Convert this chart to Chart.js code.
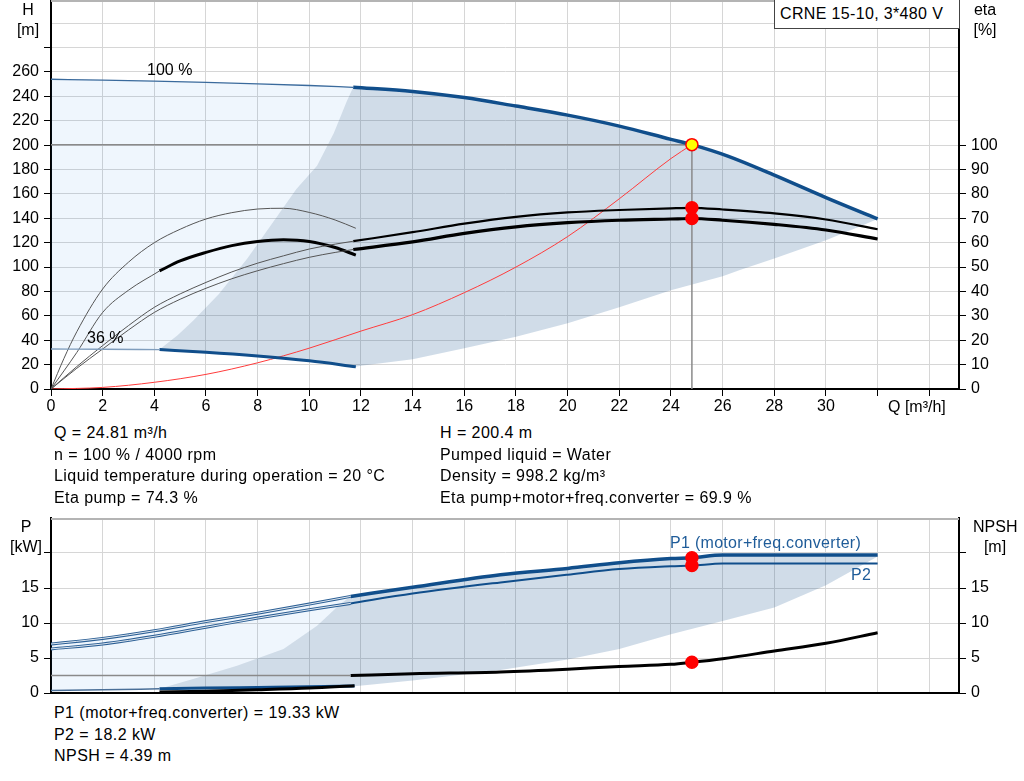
<!DOCTYPE html>
<html>
<head>
<meta charset="utf-8">
<script src="https://cdn.jsdelivr.net/npm/chart.js@4.4.1/dist/chart.umd.min.js"></script>
<style>
  body { margin: 0; background: #fff; }
  #page { position: relative; width: 1024px; height: 781px; overflow: hidden;
          font-family: "Liberation Sans", Arial, sans-serif; color: #000; }
  canvas { position: absolute; left: 0; }
  #top { top: 0; }
  #bottom { top: 505px; }
  .t { position: absolute; font-size: 16px; line-height: 18px; white-space: nowrap; letter-spacing: 0.45px; }
  .c { text-align: center; width: 44px; letter-spacing: 0; }
  .blue { color: #1f5c99; letter-spacing: 0.3px; }
  #box { position: absolute; left: 774px; top: -1px; width: 186px; height: 30px;
         border: 1px solid #444; background: #fff; box-sizing: border-box; }
</style>
</head>
<body>
<div id="page">
  <canvas id="top" width="1024" height="420"></canvas>
  <canvas id="bottom" width="1024" height="192"></canvas>

  <div id="box"></div>
  <div class="t" style="left:780px;top:5px;letter-spacing:0.35px">CRNE 15-10, 3*480 V</div>

  <div class="t c" style="left:6px;top:1px">H</div>
  <div class="t c" style="left:6px;top:21px">[m]</div>
  <div class="t c" style="left:963px;top:1px">eta</div>
  <div class="t c" style="left:963px;top:21px">[%]</div>
  <div class="t" style="left:888px;top:398px;letter-spacing:0">Q [m³/h]</div>
  <div class="t" style="left:147px;top:61px;letter-spacing:0">100 %</div>
  <div class="t" style="left:87px;top:329px;letter-spacing:0">36 %</div>

  <div class="t" style="left:54px;top:424px">Q = 24.81 m³/h</div>
  <div class="t" style="left:54px;top:446px">n = 100 % / 4000 rpm</div>
  <div class="t" style="left:54px;top:467px">Liquid temperature during operation = 20 °C</div>
  <div class="t" style="left:54px;top:489px">Eta pump = 74.3 %</div>
  <div class="t" style="left:440px;top:424px">H = 200.4 m</div>
  <div class="t" style="left:440px;top:446px">Pumped liquid = Water</div>
  <div class="t" style="left:440px;top:467px">Density = 998.2 kg/m³</div>
  <div class="t" style="left:440px;top:489px">Eta pump+motor+freq.converter = 69.9 %</div>

  <div class="t c" style="left:4px;top:518px">P</div>
  <div class="t c" style="left:4px;top:538px">[kW]</div>
  <div class="t c" style="left:973px;top:518px">NPSH</div>
  <div class="t c" style="left:973px;top:538px">[m]</div>
  <div class="t blue" style="left:670px;top:534px">P1 (motor+freq.converter)</div>
  <div class="t blue" style="left:851px;top:566px">P2</div>

  <div class="t" style="left:54px;top:704px">P1 (motor+freq.converter) = 19.33 kW</div>
  <div class="t" style="left:54px;top:726px">P2 = 18.2 kW</div>
  <div class="t" style="left:54px;top:747px">NPSH = 4.39 m</div>
</div>

<script>
// ---- operating point ----
var qOp = 24.81, hOp = 200.4, etaPumpOp = 74.3, etaTotOp = 69.9;
var p1Op = 19.33, p2Op = 18.2, npshOp = 4.39;

// ---- head curves (m) ----
var qHead100Thin = [0, 2, 4, 6, 8, 10, 11.7];
var hHead100Thin = [254, 253.3, 252.5, 251.5, 250.3, 248.9, 247.4];
var qHead100 = [11.7, 14, 16, 18, 20, 22, 24, 24.81, 26.2, 28, 30, 32];
var hHead100 = [247.4, 244, 239, 232, 224.6, 215.6, 204.7, 200.4, 191, 175.4, 157, 139.5];
var qHead36Thin = [0, 2, 4.2];
var hHead36Thin = [32.8, 32.6, 32.3];
var qHead36 = [4.2, 6, 8, 10, 11.8];
var hHead36 = [32.3, 30.2, 27.1, 23.1, 18.3];

// edges of the operating range (m)
var qEdge = [11.7, 11.45, 10.95, 10.3, 9.5, 8.6, 7.6, 6.5, 5.5, 4.9, 4.2];
var hEdge = [247.4, 236, 210, 183, 164, 137, 107, 78, 56, 44, 32.3];
var qLow = [32, 31.4, 30, 28, 26.67, 26, 24, 22, 20, 18, 16, 14, 12, 11.8];
var hLow = [139.5, 134, 122, 107, 97.5, 92.5, 81, 67, 54, 42.9, 33.4, 24.3, 19.1, 18.3];

// system curve (m)
var qSys = [0, 2, 4, 6, 8, 10, 12, 14, 16, 18, 20, 22, 24, 24.81];
var hSys = [0, 1.3, 5.5, 12, 21.5, 33.5, 47.5, 61, 79, 100, 125, 156, 189, 200.4];

// ---- efficiency curves (%) ----
var qEtaThin = [0, 1, 2, 3, 4, 5, 6, 7, 8, 9, 10, 11, 11.7];
var etaPumpThin = [0, 9.2, 17.8, 26, 33.5, 39, 43.7, 48, 51.6, 54.6, 57.4, 59.4, 60.6];
var etaTotThin = [0, 8.5, 16.4, 24.2, 31.4, 36.8, 41.3, 45.2, 48.5, 51.4, 54, 56, 57.2];
var qEta = [11.7, 14, 16, 18, 20, 22, 24, 24.81, 26, 28, 30, 32];
var etaPump = [60.6, 64.3, 67.8, 70.6, 72.4, 73.4, 74.1, 74.3, 73.6, 72, 69.5, 65.5];
var etaTot = [57.2, 60.3, 63.8, 66.5, 68.2, 69.2, 69.7, 69.9, 69.2, 67.5, 65.2, 61.5];
var qEtaPump36 = [0, 0.5, 1, 2, 3, 4, 5, 6, 7, 8, 9, 10, 11, 11.8];
var etaPump36 = [0, 12.5, 23.5, 41, 52, 60, 65.5, 69.7, 72.3, 73.8, 74.1, 72.4, 69.3, 65.9];
var qEtaTot36Thin = [0, 1, 2, 3, 4.2];
var etaTot36Thin = [0, 15, 31.4, 40.5, 48.4];
var qEtaTot36 = [4.2, 5, 6, 7, 8, 9, 10, 11, 11.8];
var etaTot36 = [48.4, 52.5, 56, 58.8, 60.5, 61.2, 60.5, 58, 54.9];

// ---- power and NPSH ----
var qPThin = [0, 2, 4, 6, 8, 10, 11.6];
var p1Thin = [7.0, 7.8, 8.9, 10.2, 11.4, 12.7, 13.8];
var p2Thin = [6.3, 7.0, 8.1, 9.4, 10.7, 11.9, 12.8];
var qP = [11.6, 14, 17.4, 20, 22, 24, 24.81, 26, 28, 30, 32];
var p1 = [13.8, 15.1, 16.9, 17.8, 18.6, 19.2, 19.33, 19.7, 19.7, 19.7, 19.7];
var p2 = [12.8, 14.2, 15.8, 16.9, 17.7, 18.1, 18.2, 18.5, 18.5, 18.5, 18.5];
var npshThin = [2.5, 2.5];
var qNpshThin = [0, 11.6];
var npsh = [2.5, 2.75, 3.0, 3.4, 3.8, 4.1, 4.39, 4.9, 6.0, 7.1, 8.6];
var qP36Thin = [0, 2, 4.2];
var p136Thin = [0.35, 0.45, 0.6];
var qP36 = [4.2, 6, 8, 10, 11.75];
var p136 = [0.6, 0.7, 0.8, 0.9, 1.0];
var npsh36 = [0.15, 0.25, 0.45, 0.7, 1.05];
var qEdgeP = [11.6, 11.2, 10.3, 9.0, 7.2, 5.5, 4.2];
var pEdge = [13.8, 12.7, 9.6, 6.3, 3.9, 2.0, 0.6];
var qLowP = [32, 30, 28, 26, 24, 22, 20, 17.4, 14, 11.75];
var pLow = [19.5, 15.4, 12.2, 10.3, 8.4, 6.3, 4.8, 3.3, 1.8, 0.95];

// ---- ticks ----
var qTicks = [0, 2, 4, 6, 8, 10, 12, 14, 16, 18, 20, 22, 24, 26, 28, 30, 32, 34];
var qLabelMax = 30;
var hTicks = [0, 20, 40, 60, 80, 100, 120, 140, 160, 180, 200, 220, 240, 260, 280, 300];
var hLabelMax = 260;
var etaTicks = [0, 10, 20, 30, 40, 50, 60, 70, 80, 90, 100];
var pTicks = [0, 5, 10, 15, 20];
var pLabelMax = 15;

var blue = "#104e8b";
var lightFill = "rgba(30,130,230,0.07)";
var darkFill = "rgba(20,80,140,0.2)";

function pts(xs, ys) {
  return xs.map(function (x, i) { return { x: x, y: ys[i] }; });
}
function rev(a) { return a.slice().reverse(); }

function curve(data, color, width, axis, order) {
  return { data: data, borderColor: color, borderWidth: width, yAxisID: axis || "y",
           pointRadius: 0, fill: false, cubicInterpolationMode: "monotone", order: order || 1 };
}
function area(data, color, axis) {
  return { data: data, backgroundColor: color, borderWidth: 0, yAxisID: axis || "y",
           pointRadius: 0, fill: "shape", tension: 0, order: 9 };
}
function dot(x, y, axis, bg, border) {
  return { data: [{ x: x, y: y }], yAxisID: axis || "y", showLine: false,
           pointRadius: 6, pointBackgroundColor: bg, pointBorderColor: border,
           pointBorderWidth: 1.5, order: 0 };
}
function setTicks(list) {
  return function (s) { s.ticks = list.map(function (v) { return { value: v }; }); };
}
function fitY(w) {
  return function (s) { s.width = w; s.paddingTop = 0; s.paddingBottom = 0; };
}

var topLine = {
  id: "topLine",
  afterDraw: function (c) {
    var a = c.chartArea, ctx = c.ctx;
    ctx.save();
    ctx.strokeStyle = "#b4b4b4";
    ctx.lineWidth = 2;
    ctx.beginPath();
    ctx.moveTo(a.left, a.top + 1);
    ctx.lineTo(a.right, a.top + 1);
    ctx.stroke();
    ctx.restore();
  }
};

Chart.defaults.font.family = "'Liberation Sans', Arial, sans-serif";
Chart.defaults.font.size = 16;
Chart.defaults.color = "#000";

var tickFont = { size: 16 };

// light and dark regions of the head chart
var lightTop = pts(qHead100Thin, hHead100Thin)
  .concat(pts(qEdge, hEdge).slice(1))
  .concat(pts(rev(qHead36Thin), rev(hHead36Thin)));
var darkTop = pts(rev(qEdge), rev(hEdge))
  .concat(pts(qHead100, hHead100).slice(1))
  .concat(pts(qLow, hLow))
  .concat(pts(rev(qHead36), rev(hHead36)));

new Chart("top", {
  type: "line",
  data: {
    datasets: [
      area(lightTop, lightFill),
      area(darkTop, darkFill),
      curve(pts(qSys, hSys), "#ff3b3b", 1, "y", 2),
      curve([{ x: 0, y: hOp }, { x: qOp, y: hOp }], "#8a8a8a", 1.5, "y", 3),
      curve([{ x: qOp, y: 0 }, { x: qOp, y: hOp }], "#8a8a8a", 1.5, "y", 3),
      curve(pts(qHead100Thin, hHead100Thin), "#3a6a9c", 1.3),
      curve(pts(qHead100, hHead100), blue, 3.5),
      curve(pts(qHead36Thin, hHead36Thin), "#7f9dbd", 1.3),
      curve(pts(qHead36, hHead36), blue, 3),
      curve(pts(qEtaThin, etaPumpThin), "#555", 1, "eta"),
      curve(pts(qEtaThin, etaTotThin), "#555", 1, "eta"),
      curve(pts(qEta, etaPump), "#000", 2.2, "eta"),
      curve(pts(qEta, etaTot), "#000", 3.2, "eta"),
      curve(pts(qEtaPump36, etaPump36), "#555", 1, "eta"),
      curve(pts(qEtaTot36Thin, etaTot36Thin), "#555", 1, "eta"),
      curve(pts(qEtaTot36, etaTot36), "#000", 3, "eta"),
      dot(qOp, etaPumpOp, "eta", "#ff0000", "#ff0000"),
      dot(qOp, etaTotOp, "eta", "#ff0000", "#ff0000"),
      dot(qOp, hOp, "y", "#ffff00", "#ff0000")
    ]
  },
  options: {
    responsive: false,
    animation: false,
    events: [],
    layout: { padding: 0, autoPadding: false },
    plugins: { legend: { display: false }, tooltip: { enabled: false } },
    scales: {
      x: {
        type: "linear", min: 0, max: 35.15,
        afterBuildTicks: setTicks(qTicks),
        afterFit: function (s) { s.height = 31; },
        ticks: { font: tickFont, padding: 1, maxRotation: 0, autoSkip: false,
                 callback: function (v) { return v <= qLabelMax ? v : ""; } },
        grid: { color: "#d6d6d6", tickColor: "#000", tickLength: 7 },
        border: { color: "#000", width: 2 }
      },
      y: {
        position: "left", min: 0, max: 319,
        afterBuildTicks: setTicks(hTicks),
        afterFit: fitY(51),
        ticks: { font: tickFont, padding: 5,
                 callback: function (v) { return v <= hLabelMax ? v : ""; } },
        grid: { color: "#d6d6d6", tickLength: 7,
                tickColor: function (ctx) { return ctx.tick && ctx.tick.value > 280 ? "rgba(0,0,0,0)" : "#000"; } },
        border: { color: "#000", width: 2 }
      },
      eta: {
        position: "right", min: 0, max: 159.5,
        afterBuildTicks: setTicks(etaTicks),
        afterFit: fitY(65),
        ticks: { font: tickFont, padding: 5 },
        grid: { drawOnChartArea: false, tickColor: "#000", tickLength: 7 },
        border: { color: "#000", width: 2 }
      }
    }
  },
  plugins: [topLine]
});

// light and dark regions of the power chart
var lightBot = pts(qPThin, p1Thin)
  .concat(pts(qEdgeP, pEdge).slice(1))
  .concat(pts(rev(qP36Thin), rev(p136Thin)));
var darkBot = pts(rev(qEdgeP), rev(pEdge))
  .concat(pts(qP, p1).slice(1))
  .concat(pts(qLowP, pLow))
  .concat(pts(rev(qP36), rev(p136)));

new Chart("bottom", {
  type: "line",
  data: {
    datasets: [
      area(lightBot, lightFill),
      area(darkBot, darkFill),
      curve(pts(qPThin, p1Thin), "#2b5f95", 3, "y", 2),
      curve(pts(qPThin, p1Thin), "rgba(255,255,255,0.85)", 1, "y", 1),
      curve(pts(qPThin, p2Thin), "#2b5f95", 3, "y", 2),
      curve(pts(qPThin, p2Thin), "rgba(255,255,255,0.85)", 1, "y", 1),
      curve(pts(qP, p1), blue, 3.5),
      curve(pts(qP, p2), blue, 2),
      curve(pts(qNpshThin, npshThin), "#8a8a8a", 1.5, "npsh"),
      curve(pts(qP, npsh), "#000", 3, "npsh"),
      curve(pts(qP36Thin, p136Thin), "#4a6f98", 1.5),
      curve(pts(qP36, npsh36), "#000", 3, "npsh"),
      curve(pts(qP36, p136), blue, 3),
      dot(qOp, p1Op, "y", "#ff0000", "#ff0000"),
      dot(qOp, p2Op, "y", "#ff0000", "#ff0000"),
      dot(qOp, npshOp, "npsh", "#ff0000", "#ff0000")
    ]
  },
  options: {
    responsive: false,
    animation: false,
    events: [],
    layout: { padding: { top: 13 }, autoPadding: false },
    plugins: { legend: { display: false }, tooltip: { enabled: false } },
    scales: {
      x: {
        type: "linear", min: 0, max: 35.15,
        afterBuildTicks: setTicks(qTicks),
        afterFit: function (s) { s.height = 4; },
        ticks: { display: false },
        grid: { color: "#d6d6d6", drawTicks: false },
        border: { color: "#000", width: 2 }
      },
      y: {
        position: "left", min: 0, max: 25,
        afterBuildTicks: setTicks(pTicks),
        afterFit: fitY(51),
        ticks: { font: tickFont, padding: 5,
                 callback: function (v) { return v <= pLabelMax ? v : ""; } },
        grid: { color: "#d6d6d6", tickColor: "#000", tickLength: 7 },
        border: { color: "#000", width: 2 }
      },
      npsh: {
        position: "right", min: 0, max: 25,
        afterBuildTicks: setTicks(pTicks),
        afterFit: fitY(65),
        ticks: { font: tickFont, padding: 5,
                 callback: function (v) { return v <= pLabelMax ? v : ""; } },
        grid: { drawOnChartArea: false, tickColor: "#000", tickLength: 7 },
        border: { color: "#000", width: 2 }
      }
    }
  },
  plugins: [topLine]
});
</script>
</body>
</html>
